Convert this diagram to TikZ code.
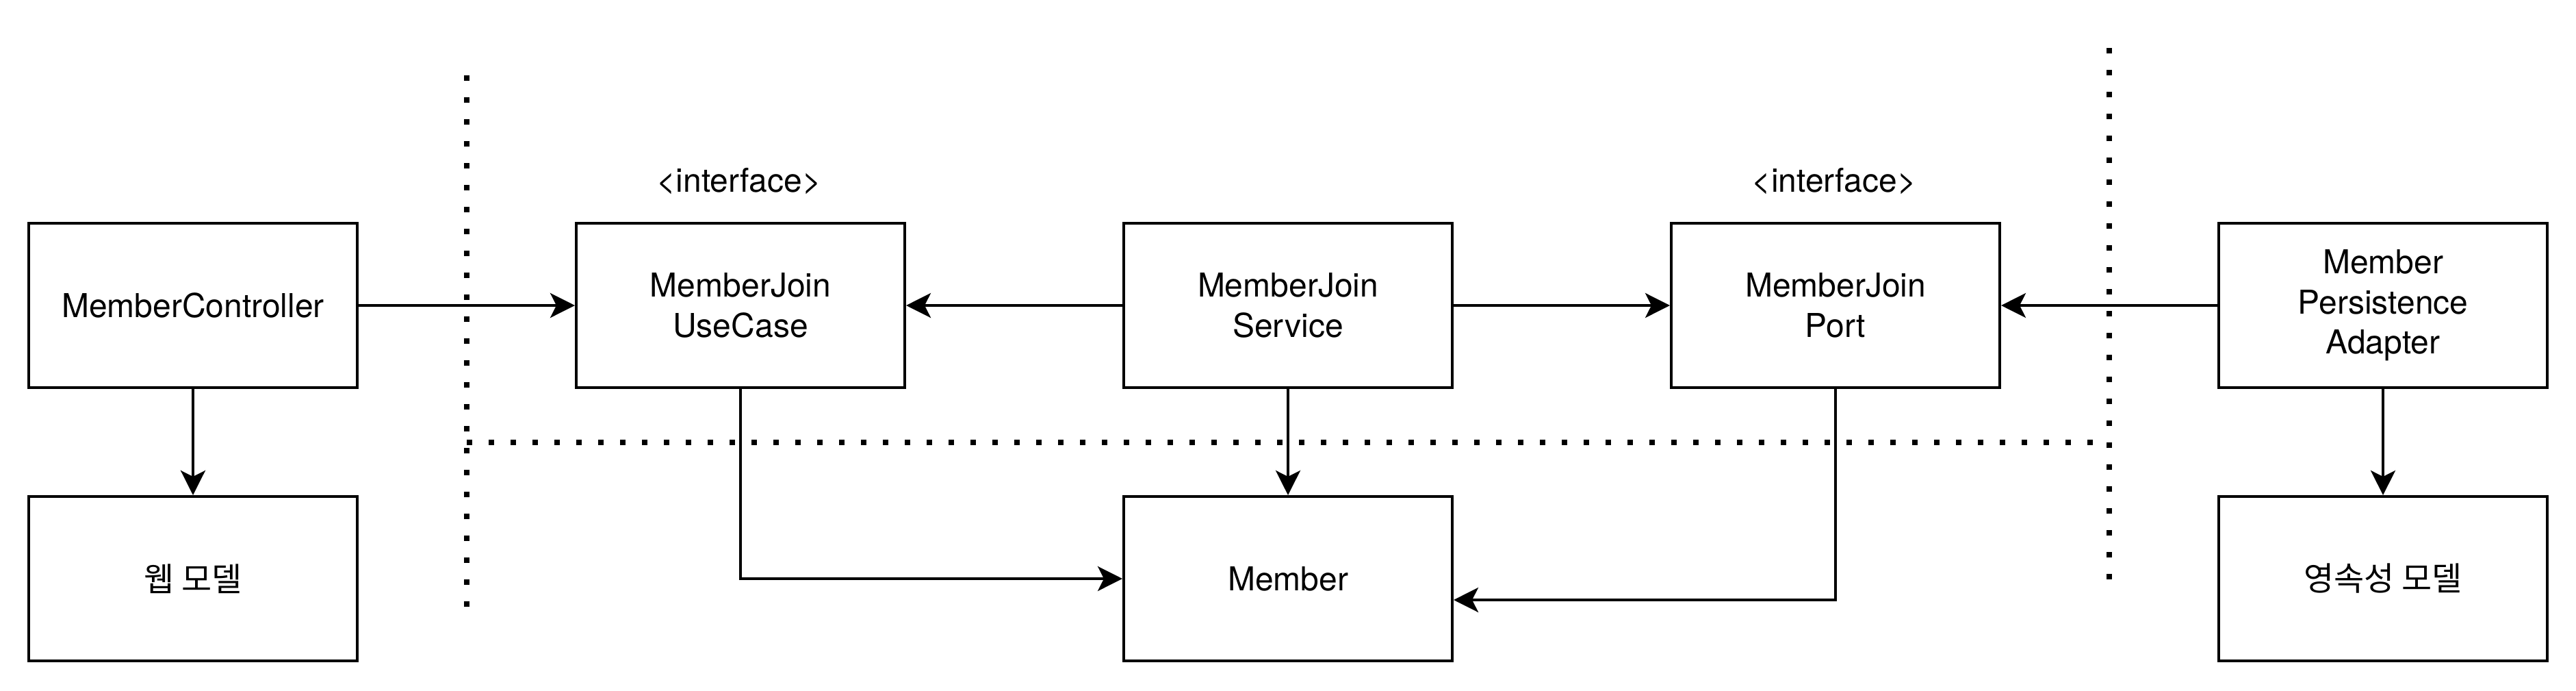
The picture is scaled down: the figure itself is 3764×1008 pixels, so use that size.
\documentclass[tikz,border=0pt]{standalone}
\usepackage{fontspec}
\setmainfont{TeX Gyre Heros}
\newfontfamily\krfont{Noto Sans CJK KR}
\usetikzlibrary{arrows.meta}
\begin{document}
\begin{tikzpicture}[x=0.25pt,y=-0.25pt,
  box/.style={draw,line width=1pt,minimum width=120pt,minimum height=60pt,inner sep=0pt,align=center,font=\fontsize{12}{14.6}\selectfont},
  conn/.style={line width=1pt,-{Stealth[length=9pt,width=9pt,inset=2.25pt]}},
  sep/.style={line width=2pt,dash pattern=on 2pt off 6pt},
  lbl/.style={font=\fontsize{12}{14.6}\selectfont,inner sep=0pt}]
\useasboundingbox (0,0) rectangle (3764,1008);

% boxes
\node[box] (ctrl) at (282,446) {MemberController};
\node[box] (web)  at (282,845) {\krfont 웹 모델};
\node[box] (uc)   at (1082,446) {MemberJoin\\UseCase};
\node[box] (svc)  at (1882,446) {MemberJoin\\Service};
\node[box] (port) at (2682,446) {MemberJoin\\Port};
\node[box] (adp)  at (3482,446) {Member\\Persistence\\Adapter};
\node[box] (mem)  at (1882,845) {Member};
\node[box] (pm)   at (3482,845) {\krfont 영속성 모델};

% stereotype labels
\node[lbl,anchor=base] (i1) at (1080,280) {<interface>};
\node[lbl,anchor=base] (i2) at (2680,280) {<interface>};

% separators
\coordinate (v1a) at (682,110);
\coordinate (v1b) at (682,886);
\coordinate (v2a) at (3082,70);
\coordinate (v2b) at (3082,846);
\coordinate (h1a) at (682,646);
\coordinate (h1b) at (3058,646);
\draw[sep] (v1a) -- (v1b);
\draw[sep] (v2a) -- (v2b);
\draw[sep] (h1a) -- (h1b);

% connectors
\draw[conn] (ctrl.east) -- (uc.west);
\draw[conn] (ctrl.south) -- (web.north);
\draw[conn] (svc.west) -- (uc.east);
\draw[conn] (svc.east) -- (port.west);
\draw[conn] (adp.west) -- (port.east);
\draw[conn] (adp.south) -- (pm.north);
\draw[conn] (svc.south) -- (mem.north);
\draw[conn] (uc.south) |- (mem.west);
\coordinate (pin) at ([yshift=-7.75pt]mem.east);
\draw[conn] (port.south) |- (pin);
\end{tikzpicture}
\end{document}
